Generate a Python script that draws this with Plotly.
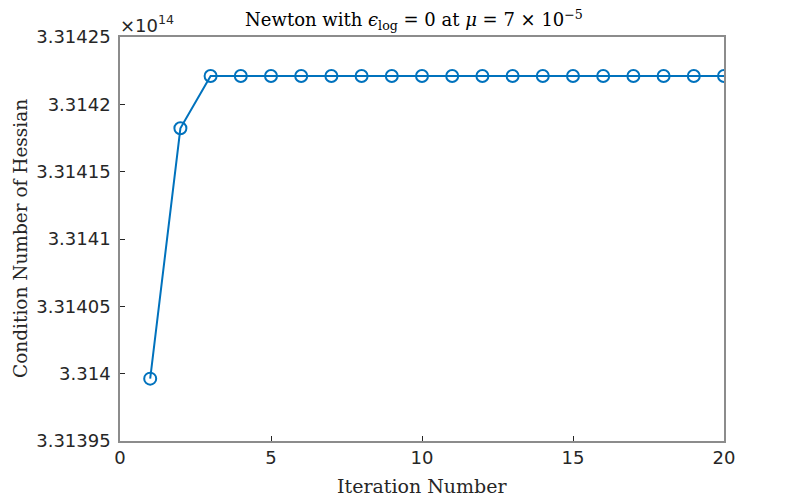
import plotly.graph_objects as go

# condition number of the Hessian per Newton iteration
iterations = list(range(1, 21))
cond_hessian = [3.3139963e14, 3.3141822e14] + [3.3142210e14] * 18

x_ticks = [0, 5, 10, 15, 20]
y_ticks = [3.31395, 3.314, 3.31405, 3.3141, 3.31415, 3.3142, 3.31425]
y_tick_text = ["3.31395", "3.314", "3.31405", "3.3141", "3.31415", "3.3142", "3.31425"]

scale = 1e14
y_scaled = [v / scale for v in cond_hessian]

serif = "DejaVu Serif, serif"
sans = "DejaVu Sans, sans-serif"
ink = "#262626"

fig = go.Figure(go.Scatter(
    x=iterations,
    y=y_scaled,
    mode="lines+markers",
    line=dict(color="#0072BD", width=2),
    marker=dict(symbol="circle-open", size=12, color="#0072BD", line=dict(width=2)),
    showlegend=False,
))

axis_common = dict(
    showgrid=False, zeroline=False, automargin=False,
    showline=True, linecolor="#8c8c8c", linewidth=1.5, mirror=True,
    ticks="inside", ticklen=5, tickcolor=ink,
    tickfont=dict(family=sans, size=18, color=ink),
)

fig.update_xaxes(range=[0, 20], tickvals=x_ticks, **axis_common)
fig.update_yaxes(range=[3.31395, 3.31425], tickvals=y_ticks, ticktext=y_tick_text,
                 ticklabelstandoff=4, **axis_common)

fig.update_layout(
    width=800, height=500,
    margin=dict(l=112, r=84, t=29, b=67),
    plot_bgcolor="white", paper_bgcolor="white",
    title=dict(
        text="Newton with <i>ϵ</i><sub>log</sub> = 0 at <i>μ</i> = 7 × 10<sup>−5</sup>",
        x=406 / 800, xref="container", xanchor="center",
        y=1 - 12 / 500, yref="container", yanchor="middle",
        font=dict(family=serif, size=18, color="black"),
    ),
    annotations=[
        dict(text="×10<sup>14</sup>", x=0, y=1, xref="paper", yref="paper",
             xanchor="left", yanchor="bottom", showarrow=False, yshift=-1, xshift=-2,
             font=dict(family=sans, size=18, color=ink)),
        dict(text="Iteration Number", x=0.5, y=0, xref="paper", yref="paper",
             xanchor="center", yanchor="middle", showarrow=False, yshift=-45,
             font=dict(family=serif, size=19, color=ink)),
        dict(text="Condition Number of Hessian", x=0, y=0.5, xref="paper", yref="paper",
             xanchor="center", yanchor="middle", showarrow=False, textangle=-90,
             xshift=-100, font=dict(family=serif, size=18.5, color=ink)),
    ],
)

fig.write_html("out.html")
